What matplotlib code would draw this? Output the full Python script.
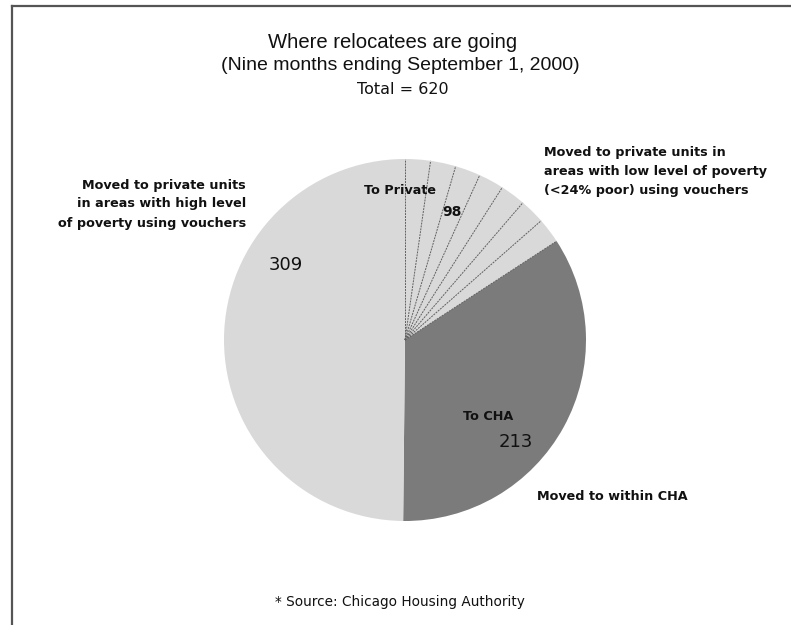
import numpy as np
import matplotlib
matplotlib.use("Agg")
import matplotlib.pyplot as plt
from matplotlib.lines import Line2D

plt.rcParams['font.family'] = ['Liberation Sans', 'DejaVu Sans']

# Data
categories = ["To Private (low poverty)", "To CHA", "To Private (high poverty)"]
values = [98, 213, 309]
colors = ["#d9d9d9", "#7b7b7b", "#d9d9d9"]
n_hatch_parts = 7

W, H = 791, 625
fig = plt.figure(figsize=(W / 100, H / 100), dpi=100)
fig.patch.set_facecolor("white")

def fx(px):
    return px / W

def fy(py):
    return 1 - py / H

LBL = ['DejaVu Sans']

# frame (left and top edges)
fig.add_artist(Line2D([fx(11.5), fx(11.5)], [0, fy(5.5)], transform=fig.transFigure,
                      color="#555555", lw=1.6))
fig.add_artist(Line2D([fx(11.5), 1], [fy(5.5), fy(5.5)], transform=fig.transFigure,
                      color="#555555", lw=1.6))

cx, cy, r = 405, 340, 181
ax = fig.add_axes([fx(cx - r), fy(cy + r), 2 * r / W, 2 * r / H])
wedges, _ = ax.pie(values, colors=colors, startangle=90, counterclock=False,
                   radius=1, wedgeprops=dict(linewidth=0))
ax.set_xlim(-1, 1)
ax.set_ylim(-1, 1)
ax.set_aspect("equal")
ax.axis("off")

# radial dotted lines dividing the small private slice
w0 = wedges[0]
angs = np.linspace(w0.theta1, w0.theta2, n_hatch_parts + 1)
for a in angs:
    t = np.deg2rad(a)
    ax.plot([0, np.cos(t)], [0, np.sin(t)], color="#606060", lw=0.7,
            linestyle=(0, (2, 1)))

# titles
fig.text(fx(393), fy(42), "Where relocatees are going", ha="center", va="center",
         fontsize=14.6, color="#111111")
fig.text(fx(400), fy(66), "(Nine months ending September 1, 2000)", ha="center",
         va="center", fontsize=14.0, color="#111111")
fig.text(fx(403), fy(90), "Total = 620", ha="center", va="center", fontsize=11.5,
         family=LBL, color="#111111")

# labels
fig.text(fx(246), fy(204), "Moved to private units\nin areas with high level\nof poverty using vouchers",
         ha="right", va="center", fontsize=9.2, fontweight="bold", linespacing=1.6,
         family=LBL, color="#111111")
fig.text(fx(544), fy(171), "Moved to private units in\nareas with low level of poverty\n(<24% poor) using vouchers",
         ha="left", va="center", fontsize=9.2, fontweight="bold", linespacing=1.6,
         family=LBL, color="#111111")
fig.text(fx(400), fy(190), "To Private", ha="center", va="center", fontsize=9.2,
         fontweight="bold", family=LBL, color="#111111")
fig.text(fx(452), fy(212), str(values[0]), ha="center", va="center", fontsize=10,
         fontweight="bold", family=LBL, color="#111111")
fig.text(fx(286), fy(265), str(values[2]), ha="center", va="center", fontsize=13,
         family=LBL, color="#111111")
fig.text(fx(488), fy(417), "To CHA", ha="center", va="center", fontsize=9.2,
         fontweight="bold", family=LBL, color="#111111")
fig.text(fx(516), fy(442), str(values[1]), ha="center", va="center", fontsize=13,
         family=LBL, color="#111111")
fig.text(fx(537), fy(496), "Moved to within CHA", ha="left", va="center", fontsize=9.2,
         fontweight="bold", family=LBL, color="#111111")
fig.text(fx(400), fy(602), "* Source: Chicago Housing Authority", ha="center",
         va="center", fontsize=9.8, family=LBL, color="#111111")

fig.savefig("out.png", dpi=100, facecolor="white")
